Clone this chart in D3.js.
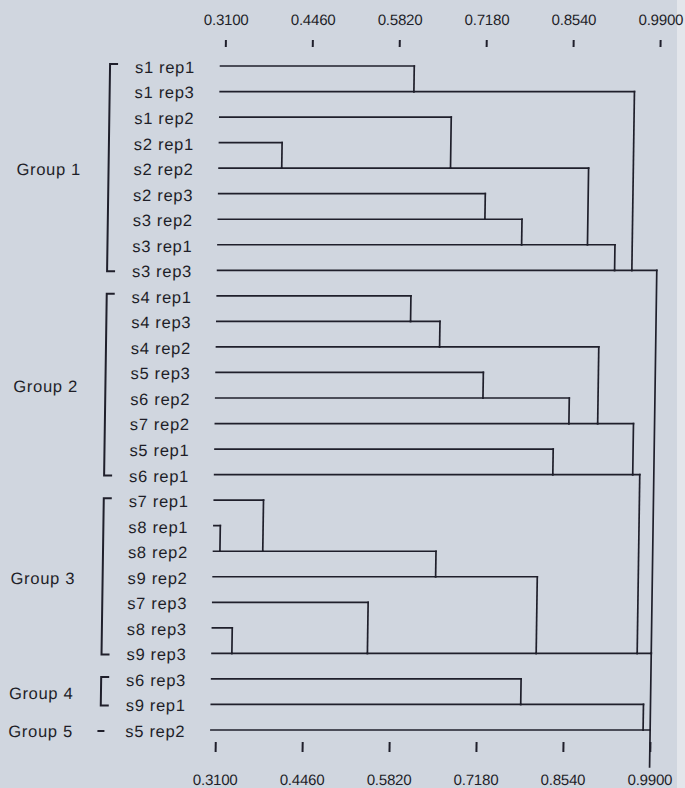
<!DOCTYPE html>
<html><head><meta charset="utf-8">
<script src="https://cdn.jsdelivr.net/npm/d3@7"></script>
<style>
html,body{margin:0;padding:0;background:#d0d6df;}
svg{display:block;}
</style></head><body>
<svg id="chart" width="685" height="788"></svg>
<script>
// ---- data ----
const leaves = ["s1 rep1","s1 rep3","s1 rep2","s2 rep1","s2 rep2","s2 rep3","s3 rep2","s3 rep1","s3 rep3",
  "s4 rep1","s4 rep3","s4 rep2","s5 rep3","s6 rep2","s7 rep2","s5 rep1","s6 rep1",
  "s7 rep1","s8 rep1","s8 rep2","s9 rep2","s7 rep3","s8 rep3","s9 rep3",
  "s6 rep3","s9 rep1","s5 rep2"];
const groupNames = ["Group 1","Group 2","Group 3","Group 4","Group 5"];
const groupFirst = [0, 9, 17, 24, 26];
const groupLast  = [8, 16, 23, 25, 26];
// linkage: cluster ids 0..26 are leaves, merge k creates cluster 27+k
const mergeA = [0, 3, 2, 5, 30, 29, 32, 27,  9, 35, 12, 37, 36, 15, 39, 18, 17, 43, 22, 21, 44, 41, 24, 49, 34, 51];
const mergeB = [1, 4, 28, 6, 7, 31, 8, 33,  10, 11, 13, 14, 38, 16, 40, 19, 42, 20, 23, 45, 46, 47, 25, 26, 48, 50];
const mergeHeight = [0.606, 0.401, 0.665, 0.720, 0.778, 0.881, 0.924, 0.951,
  0.606, 0.652, 0.721, 0.856, 0.901, 0.832, 0.957,
  0.313, 0.380, 0.651, 0.334, 0.546, 0.810, 0.968,
  0.787, 0.979, 0.990, 0.990];
const leafStart = 0.303;
const tickValues = [0.3100, 0.4460, 0.5820, 0.7180, 0.8540, 0.9900];

// ---- drawing ----
const W = 685, H = 788;
const lineColor = "#1f1f2b", textColor = "#1e1e28";
const font = "'Liberation Sans', Arial, Helvetica, sans-serif";
const svg = d3.select("#chart");
svg.append("rect").attr("width", W).attr("height", H).attr("fill", "#d0d6df");
svg.append("rect").attr("x", 677).attr("width", W - 677).attr("height", H).attr("fill", "#e3e6eb");

const g = svg.append("g").attr("transform", "skewX(-0.83)");

const x = d3.scaleLinear().domain([0.31, 0.99]).range([226, 660.7]);
const y = d3.scalePoint().domain(d3.range(leaves.length)).range([66, 730]);

// cluster state
const row = leaves.map((d, i) => i);
const hgt = leaves.map(() => leafStart);
const segs = [];
mergeA.forEach((a, k) => {
  const b = mergeB[k], h = mergeHeight[k];
  segs.push({x1: x(hgt[a]), y1: y(row[a]), x2: x(h), y2: y(row[a])});
  segs.push({x1: x(hgt[b]), y1: y(row[b]), x2: x(h), y2: y(row[b])});
  segs.push({x1: x(h), y1: y(row[a]), x2: x(h), y2: y(row[b])});
  row.push(row[b]);
  hgt.push(h);
});
// root stem down to the bottom axis
const root = row.length - 1;
segs.push({x1: x(hgt[root]), y1: y(row[root]), x2: x(hgt[root]), y2: 767});

g.append("g").selectAll("line").data(segs).join("line")
  .attr("x1", d => d.x1).attr("y1", d => d.y1)
  .attr("x2", d => d.x2).attr("y2", d => d.y2)
  .attr("stroke", lineColor).attr("stroke-width", 1.7)
  .attr("stroke-linecap", "square");

// leaf labels
g.append("g").selectAll("text").data(leaves).join("text")
  .attr("x", 136).attr("y", (d, i) => y(i)).attr("dy", "0.42em")
  .attr("font-family", font).attr("font-size", 16.5).attr("letter-spacing", "0.7px")
  .attr("fill", textColor).text(d => d);

// group brackets
const bx = 111, btick = 8;
groupNames.forEach((name, gi) => {
  const f = groupFirst[gi], l = groupLast[gi];
  if (f === l) {
    g.append("line").attr("x1", bx - 3).attr("x2", bx + 4)
      .attr("y1", y(f) + 1).attr("y2", y(f) + 1)
      .attr("stroke", lineColor).attr("stroke-width", 2);
  } else {
    const t = y(f) - 2, b = y(l) + 1;
    g.append("path")
      .attr("d", `M${bx + btick},${t}H${bx}V${b}H${bx + btick}`)
      .attr("fill", "none").attr("stroke", lineColor).attr("stroke-width", 2);
  }
  g.append("text").attr("x", 19).attr("y", (y(f) + y(l)) / 2).attr("dy", "0.42em")
    .attr("font-family", font).attr("font-size", 16.5).attr("letter-spacing", "0.7px")
    .attr("fill", textColor).text(name);
});

// axes
const fmt = d3.format(".4f");
function styleAxis(sel) {
  sel.select(".domain").remove();
  sel.selectAll(".tick line").attr("stroke", lineColor).attr("stroke-width", 2);
  sel.selectAll(".tick text").attr("fill", textColor)
    .attr("font-family", font).attr("font-size", 15).attr("letter-spacing", "-0.2px");
}
g.append("g").attr("transform", "translate(0,47)")
  .call(d3.axisTop(x).tickValues(tickValues).tickFormat(fmt).tickSize(7).tickPadding(15))
  .call(styleAxis);
g.append("g").attr("transform", "translate(0,742)")
  .call(d3.axisBottom(x).tickValues(tickValues).tickFormat(fmt).tickSize(10).tickPadding(22))
  .call(styleAxis);
</script>
</body></html>
